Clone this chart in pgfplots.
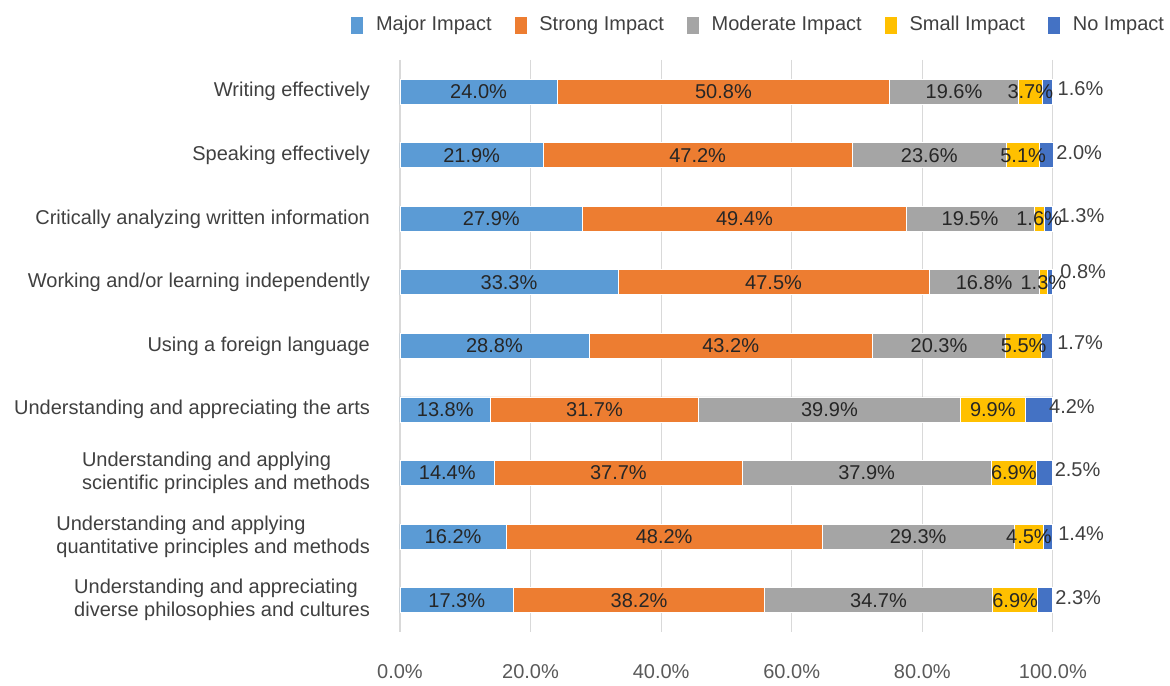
\documentclass[border=0pt]{standalone}
\usepackage{fontspec}
\setmainfont{Liberation Sans}
\usepackage{pgfplots}
\usepackage{pgfplotstable}
\pgfplotsset{compat=1.18}
\definecolor{cMajor}{HTML}{5B9BD5}
\definecolor{cStrong}{HTML}{ED7D31}
\definecolor{cModerate}{HTML}{A5A5A5}
\definecolor{cSmall}{HTML}{FFC000}
\definecolor{cNone}{HTML}{4472C4}
\definecolor{txt}{HTML}{404040}
\definecolor{lbl}{HTML}{262626}
\definecolor{tick}{HTML}{595959}
\definecolor{gridc}{HTML}{D9D9D9}

\pgfplotstableread{
idx major strong moderate small none dy
0 24.0 50.8 19.6 3.7 1.6 0
1 21.9 47.2 23.6 5.1 2.0 0
2 27.9 49.4 19.5 1.6 1.3 0
3 33.3 47.5 16.8 1.3 0.8 4
4 28.8 43.2 20.3 5.5 1.7 0
5 13.8 31.7 39.9 9.9 4.2 0
6 14.4 37.7 37.9 6.9 2.5 0
7 16.2 48.2 29.3 4.5 1.4 0
8 17.3 38.2 34.7 6.9 2.3 0
}\data

% 100% stacked: each segment as share of the row total
\def\rowtotal{(\thisrow{major}+\thisrow{strong}+\thisrow{moderate}+\thisrow{small}+\thisrow{none})}

\pgfplotsset{
  seg/.style={fill=#1, draw=white, line width=0.4pt},
  common/.style={
    scale only axis,
    width=326.5pt, height=286pt,
    xmin=0, xmax=100,
    ymin=-0.5, ymax=8.5,
    y dir=reverse,
    clip=false,
    /pgf/number format/assume math mode=true,
  },
  lab/.style={
    draw=none, mark=none,
    nodes near coords={\pgfmathprintnumber[fixed,fixed zerofill,precision=1]{\pgfplotspointmeta}\%},
    point meta=explicit,
    every node near coord/.append style={anchor=center, text=lbl},
  },
}

\begin{document}
\begin{tikzpicture}
\begin{axis}[
  common,
  xbar stacked,
  bar width=12.5pt,
  xtick={0,20,40,60,80,100},
  xticklabel={\pgfmathprintnumber[fixed,fixed zerofill,precision=1]{\tick}\%},
  xticklabel style={text=tick, yshift=-13pt},
  ytick={0,...,8},
  yticklabels={Writing effectively, Speaking effectively, Critically analyzing written information, Working and/or learning independently, Using a foreign language, Understanding and appreciating the arts, {Understanding and applying\\scientific principles and methods}, {Understanding and applying\\quantitative principles and methods}, {Understanding and appreciating\\diverse philosophies and cultures}},
  yticklabel style={align=left, text=txt, xshift=-11.5pt, font=\fontsize{10}{11.5}\selectfont},
  axis line style={draw=none},
  tick style={draw=none},
  xmajorgrids,
  grid style={draw=gridc, line width=0.6pt},
  legend columns=-1,
  legend style={draw=none, fill=none, at={(1.18,1.061)}, anchor=east, inner sep=0pt,
    nodes={inner xsep=3pt, text=txt},
    /tikz/every odd column/.append style={column sep=3pt},
    /tikz/every even column/.append style={column sep=8pt}},
  legend image code/.code={\fill[#1] (0pt,-4.5pt) rectangle (6.5pt,4.5pt);},
]
\addplot[seg=cMajor] table[x expr=\thisrow{major}*100/\rowtotal, y=idx] {\data};
\addplot[seg=cStrong] table[x expr=\thisrow{strong}*100/\rowtotal, y=idx] {\data};
\addplot[seg=cModerate] table[x expr=\thisrow{moderate}*100/\rowtotal, y=idx] {\data};
\addplot[seg=cSmall] table[x expr=\thisrow{small}*100/\rowtotal, y=idx] {\data};
\addplot[seg=cNone,
  nodes near coords={\pgfmathprintnumber[fixed,fixed zerofill,precision=1]{\pgfplotspointmeta}\%},
  point meta=explicit,
  visualization depends on={\thisrow{dy} \as \dyv},
  every node near coord/.append style={anchor=west, text=txt, xshift=1.5pt, yshift={1.5pt+\dyv pt}}
] table[x expr=\thisrow{none}*100/\rowtotal, y=idx, meta=none] {\data};
\legend{Major Impact, Strong Impact, Moderate Impact, Small Impact, No Impact}
\path (rel axis cs:-0.6126,-0.0892) (rel axis cs:1.1792,1.1049);
\end{axis}
% labels centred in each segment (non-stacked overlay axis)
\begin{axis}[common, hide axis]
\addplot[lab] table[x expr=(\thisrow{major}/2)*100/\rowtotal, y=idx, meta=major] {\data};
\addplot[lab] table[x expr=(\thisrow{major}+\thisrow{strong}/2)*100/\rowtotal, y=idx, meta=strong] {\data};
\addplot[lab] table[x expr=(\thisrow{major}+\thisrow{strong}+\thisrow{moderate}/2)*100/\rowtotal, y=idx, meta=moderate] {\data};
\addplot[lab] table[x expr=(\thisrow{major}+\thisrow{strong}+\thisrow{moderate}+\thisrow{small}/2)*100/\rowtotal, y=idx, meta=small] {\data};
\end{axis}
\end{tikzpicture}
\end{document}
